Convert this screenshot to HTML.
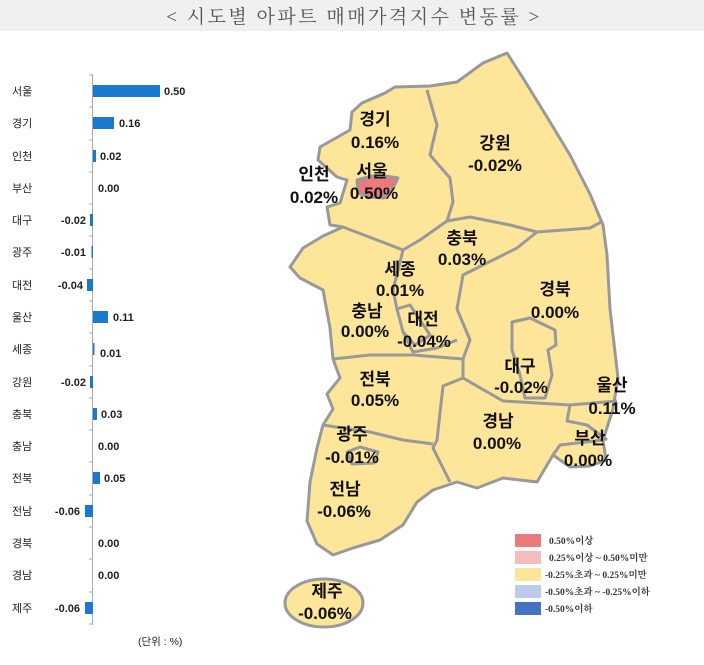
<!DOCTYPE html>
<html><head><meta charset="utf-8">
<style>
body{margin:0;width:704px;height:665px;background:#fff;overflow:hidden;font-family:"Liberation Sans","Noto Sans CJK KR",sans-serif;}
</style></head><body>
<svg width="704" height="665" viewBox="0 0 704 665" xmlns="http://www.w3.org/2000/svg" style="position:absolute;left:0;top:0">
<rect x="0" y="0" width="704" height="31" fill="#f0f0f0"/>
<text x="354" y="23" text-anchor="middle" font-family="Liberation Serif,Noto Serif CJK SC,serif" font-size="19" fill="#555" letter-spacing="2.5">&lt; 시도별 아파트 매매가격지수 변동률 &gt;</text>

<!-- bar chart -->
<g font-family="Liberation Sans,Noto Sans CJK KR,sans-serif" font-size="11" font-weight="bold" fill="#222">
<line x1="92.5" y1="74" x2="92.5" y2="625" stroke="#aaa" stroke-width="1"/>
<g stroke="#aaa">
<line x1="89" y1="75" x2="93" y2="75"/><line x1="89" y1="107" x2="93" y2="107"/><line x1="89" y1="140" x2="93" y2="140"/><line x1="89" y1="172" x2="93" y2="172"/><line x1="89" y1="204" x2="93" y2="204"/><line x1="89" y1="236" x2="93" y2="236"/><line x1="89" y1="269" x2="93" y2="269"/><line x1="89" y1="301" x2="93" y2="301"/><line x1="89" y1="333" x2="93" y2="333"/><line x1="89" y1="366" x2="93" y2="366"/><line x1="89" y1="398" x2="93" y2="398"/><line x1="89" y1="430" x2="93" y2="430"/><line x1="89" y1="462" x2="93" y2="462"/><line x1="89" y1="495" x2="93" y2="495"/><line x1="89" y1="527" x2="93" y2="527"/><line x1="89" y1="559" x2="93" y2="559"/><line x1="89" y1="592" x2="93" y2="592"/><line x1="89" y1="624" x2="93" y2="624"/>
</g>
<g fill="#1a78cf">
<rect x="93" y="85" width="67" height="12"/>
<rect x="93" y="117" width="21" height="12"/>
<rect x="93" y="150" width="3" height="12"/>
<rect x="90" y="214" width="3" height="12"/>
<rect x="91.5" y="246" width="1.5" height="12"/>
<rect x="87" y="279" width="6" height="12"/>
<rect x="93" y="311" width="15" height="12"/>
<rect x="93" y="343" width="1.5" height="12"/>
<rect x="90" y="376" width="3" height="12"/>
<rect x="93" y="408" width="4" height="12"/>
<rect x="93" y="472" width="7" height="12"/>
<rect x="85" y="505" width="8" height="12"/>
<rect x="85" y="602" width="8" height="12"/>
</g>
<g font-weight="normal" font-size="11">
<text x="12" y="95">서울</text><text x="12" y="127">경기</text><text x="12" y="160">인천</text><text x="12" y="192">부산</text><text x="12" y="224">대구</text><text x="12" y="256">광주</text><text x="12" y="289">대전</text><text x="12" y="321">울산</text><text x="12" y="353">세종</text><text x="12" y="386">강원</text><text x="12" y="418">충북</text><text x="12" y="450">충남</text><text x="12" y="482">전북</text><text x="12" y="515">전남</text><text x="12" y="547">경북</text><text x="12" y="579">경남</text><text x="12" y="612">제주</text>
</g>
<text x="164" y="95">0.50</text>
<text x="119" y="127">0.16</text>
<text x="100" y="160">0.02</text>
<text x="98" y="192">0.00</text>
<text x="86" y="224" text-anchor="end">-0.02</text>
<text x="86" y="256" text-anchor="end">-0.01</text>
<text x="83" y="289" text-anchor="end">-0.04</text>
<text x="113" y="321">0.11</text>
<text x="100" y="357">0.01</text>
<text x="86" y="386" text-anchor="end">-0.02</text>
<text x="101" y="418">0.03</text>
<text x="98" y="450">0.00</text>
<text x="104" y="482">0.05</text>
<text x="80" y="515" text-anchor="end">-0.06</text>
<text x="98" y="547">0.00</text>
<text x="98" y="579">0.00</text>
<text x="80" y="612" text-anchor="end">-0.06</text>
<text x="138" y="645" font-weight="normal" font-size="10.5">(단위 : %)</text>
</g>

<!-- map -->
<g stroke="#999" stroke-width="3" stroke-linejoin="round" fill="#fde59a">
<path d="M507,53 L523,78 L547,117 L570,155 L590,194 L603,225 L607,255 L610,309 L618,378 L613,409 L603,440 L606,460 L590,466 L570,467 L553,455 L537,482 L503,478 L477,488 L457,482 L433,490 L417,502 L403,525 L380,540 L353,548 L333,555 L317,544 L307,521 L310,482 L317,448 L323,425 L333,409 L327,394 L340,378 L333,359 L330,328 L323,290 L300,278 L290,267 L303,248 L323,236 L343,227 L330,225 L327,207 L340,203 L347,180 L337,177 L318,160 L320,147 L350,130 L352,112 L362,103 L385,93 L395,87 L430,86 L457,82 L483,63 Z"/>
<ellipse cx="324" cy="603" rx="39" ry="24"/>
<path fill="none" d="M427,90 L437,125 L430,155 L450,178 L453,202 L447,221 L470,217 L510,225 L537,232 L590,228 L603,221"/>
<path fill="none" d="M447,221 L420,240 L403,250 L377,240 L343,227"/>
<path fill="none" d="M537,232 L517,248 L463,275 L457,309 L470,340 L463,359 L463,378"/>
<path fill="none" d="M403,250 L393,290 L397,309 L403,332 L413,352 L437,348 L457,340"/>
<path fill="none" d="M333,359 L370,355 L413,355 L463,359"/>
<path fill="none" d="M463,378 L443,386 L437,440 L433,448 L450,482"/>
<path fill="none" d="M463,378 L503,401 L570,405 L617,401"/>
<path fill="none" d="M323,425 L370,432 L403,440 L433,444"/>
<path fill="none" d="M570,405 L567,421 L587,425 L607,440"/>
<path fill="none" d="M603,440 L560,445 L553,455"/>
<path fill="none" d="M512,322 L530,318 L555,330 L556,345 L548,350 L552,375 L545,398 L525,398 L520,375 L512,350 Z"/>
<path fill="none" d="M397,309 L410,305 L420,320 L430,335 L415,345 L403,332"/>
<path fill="none" d="M347,452 L360,447 L378,452 L374,463 L352,464 Z"/>
<path fill="#ec7a7c" d="M357,180 L372,176 L385,176 L398,178 L392,190 L384,198 L370,197 L358,193 Z"/>
</g>
<g font-family="Liberation Sans,Noto Sans CJK KR,sans-serif" font-size="17" font-weight="bold" fill="#111" text-anchor="middle">
<text x="375" y="125">경기</text><text x="375" y="148">0.16%</text>
<text x="495" y="149">강원</text><text x="495" y="171">-0.02%</text>
<text x="314" y="180">인천</text><text x="314" y="203">0.02%</text>
<text x="372" y="177">서울</text><text x="374" y="199">0.50%</text>
<text x="462" y="244">충북</text><text x="462" y="265">0.03%</text>
<text x="400" y="275">세종</text><text x="400" y="296">0.01%</text>
<text x="555" y="295">경북</text><text x="555" y="318">0.00%</text>
<text x="367" y="317">충남</text><text x="365" y="337">0.00%</text>
<text x="423" y="325">대전</text><text x="424" y="347">-0.04%</text>
<text x="520" y="372">대구</text><text x="521" y="393">-0.02%</text>
<text x="612" y="391">울산</text><text x="612" y="414">0.11%</text>
<text x="375" y="385">전북</text><text x="375" y="406">0.05%</text>
<text x="498" y="427">경남</text><text x="497" y="449">0.00%</text>
<text x="590" y="444">부산</text><text x="588" y="466">0.00%</text>
<text x="352" y="440">광주</text><text x="352" y="463">-0.01%</text>
<text x="345" y="495">전남</text><text x="344" y="517">-0.06%</text>
<text x="327" y="597">제주</text><text x="325" y="619">-0.06%</text>
</g>

<!-- legend -->
<g font-family="Liberation Serif,Noto Serif CJK SC,serif" font-size="9.5" font-weight="bold" fill="#333">
<rect x="515" y="534" width="26" height="13" fill="#ec7a7c"/>
<rect x="515" y="551" width="26" height="13" fill="#f5bcc0"/>
<rect x="515" y="568" width="26" height="13" fill="#fde59a"/>
<rect x="515" y="585" width="26" height="13" fill="#bccbed"/>
<rect x="515" y="602" width="26" height="13" fill="#4472c4"/>
<text x="549" y="544">0.50%이상</text>
<text x="549" y="561">0.25%이상 ~ 0.50%미만</text>
<text x="545" y="578">-0.25%초과 ~ 0.25%미만</text>
<text x="545" y="595">-0.50%초과 ~ -0.25%이하</text>
<text x="545" y="612">-0.50%이하</text>
</g>
</svg>
</body></html>
